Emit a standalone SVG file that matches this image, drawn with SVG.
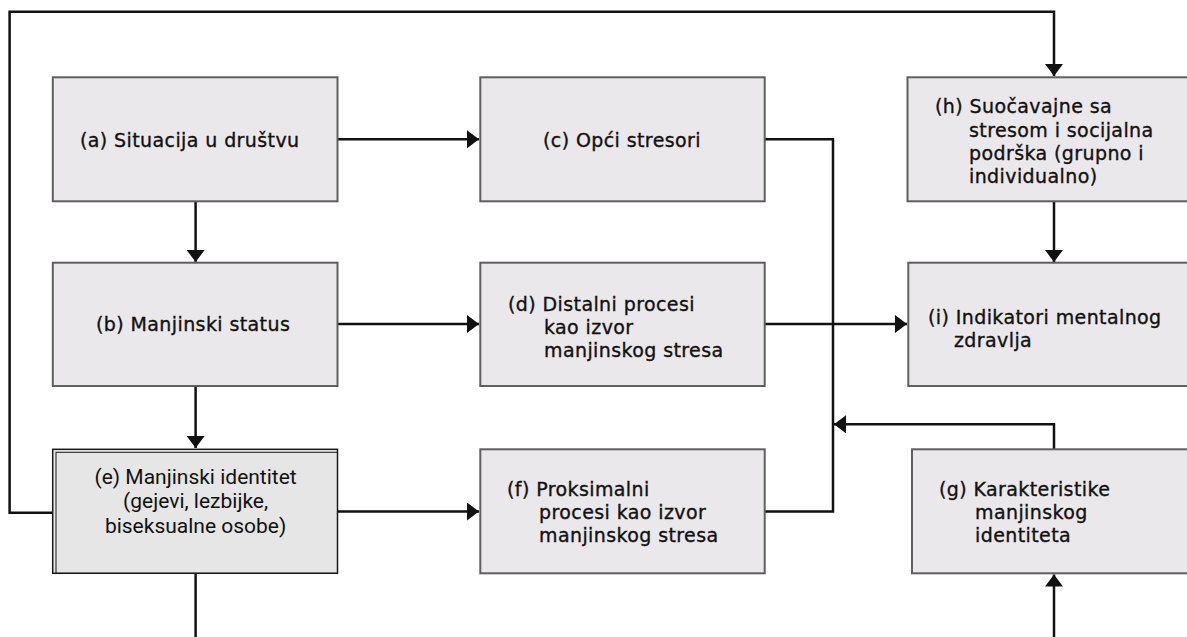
<svg xmlns="http://www.w3.org/2000/svg" width="1187" height="637" viewBox="0 0 1187 637">
<style>
.box{fill:#ebe8eb;stroke:#5f5f5f;stroke-width:2}
.ebox{fill:#e6e6e6;stroke:#1a1a1a;stroke-width:1.5}
.t{font-family:"DejaVu Sans","Open Sans",sans-serif;font-size:19px;letter-spacing:0.4px;fill:#111;stroke:#111;stroke-width:0.35}
.te{font-family:Roboto,"Liberation Sans",sans-serif;font-size:21px;fill:#111;text-anchor:middle}
.c{fill:none;stroke:#111;stroke-width:2.5}
</style>
<defs>
<marker id="ah" markerUnits="userSpaceOnUse" markerWidth="13" markerHeight="18" refX="12" refY="9" orient="auto">
<path d="M0,0 L12,9 L0,18 z" fill="#111"/>
</marker>
</defs>
<g id="connectors">
<path class="c" d="M52.7 512.7 H9.6 V11.7 H1054 V76" marker-end="url(#ah)"/>
<path class="c" d="M337.5 139.3 H479" marker-end="url(#ah)"/>
<path class="c" d="M195.6 201.3 V262" marker-end="url(#ah)"/>
<path class="c" d="M337.5 324 H479" marker-end="url(#ah)"/>
<path class="c" d="M195.6 386 V448" marker-end="url(#ah)"/>
<path class="c" d="M337.5 511.5 H479" marker-end="url(#ah)"/>
<path class="c" d="M195.6 573.3 V637"/>
<path class="c" d="M764.7 139.3 H833 V511.5 H764.7"/>
<path class="c" d="M764.7 324 H907" marker-end="url(#ah)"/>
<path class="c" d="M1054 201 V262" marker-end="url(#ah)"/>
<path class="c" d="M1054 449 V424.3 H834" marker-end="url(#ah)"/>
<path class="c" d="M1054 637 V574.5" marker-end="url(#ah)"/>
</g>
<g id="a">
<rect class="box" x="52.8" y="77.3" width="284.7" height="124"/>
<text class="t" x="80" y="147">(a) Situacija u društvu</text>
</g>
<g id="c">
<rect class="box" x="480.3" y="77.3" width="284.4" height="124"/>
<text class="t" x="543" y="147">(c) Opći stresori</text>
</g>
<g id="h">
<rect class="box" x="907.5" y="77.3" width="290" height="124"/>
<text class="t" x="935" y="113">(h) Suočavajne sa</text>
<text class="t" x="969" y="137">stresom i socijalna</text>
<text class="t" x="969" y="160">podrška (grupno i</text>
<text class="t" x="969" y="183">individualno)</text>
</g>
<g id="b">
<rect class="box" x="52.8" y="262.7" width="284.7" height="123.3"/>
<text class="t" x="96" y="331">(b) Manjinski status</text>
</g>
<g id="d">
<rect class="box" x="480.3" y="262.7" width="284.4" height="123.3"/>
<text class="t" x="508" y="311">(d) Distalni procesi</text>
<text class="t" x="544" y="334">kao izvor</text>
<text class="t" x="544" y="357">manjinskog stresa</text>
</g>
<g id="i">
<rect class="box" x="908.3" y="262.7" width="290" height="123.3"/>
<text class="t" x="928" y="324">(i) Indikatori mentalnog</text>
<text class="t" x="954" y="347">zdravlja</text>
</g>
<g id="e">
<rect class="ebox" x="52.7" y="449.3" width="284.8" height="124"/>
<rect x="56" y="452.3" width="281.5" height="121" fill="none" stroke="#1a1a1a" stroke-width="1"/>
<text class="te" x="195.6" y="484">(e) Manjinski identitet</text>
<text class="te" x="195.6" y="508">(gejevi, lezbijke,</text>
<text class="te" x="195.6" y="533">biseksualne osobe)</text>
</g>
<g id="f">
<rect class="box" x="480.3" y="449.3" width="284.4" height="124"/>
<text class="t" x="507" y="496">(f) Proksimalni</text>
<text class="t" x="539" y="519">procesi kao izvor</text>
<text class="t" x="539" y="542">manjinskog stresa</text>
</g>
<g id="g">
<rect class="box" x="912" y="449.3" width="290" height="124"/>
<text class="t" x="939" y="496">(g) Karakteristike</text>
<text class="t" x="975" y="519">manjinskog</text>
<text class="t" x="975" y="542">identiteta</text>
</g>
</svg>
